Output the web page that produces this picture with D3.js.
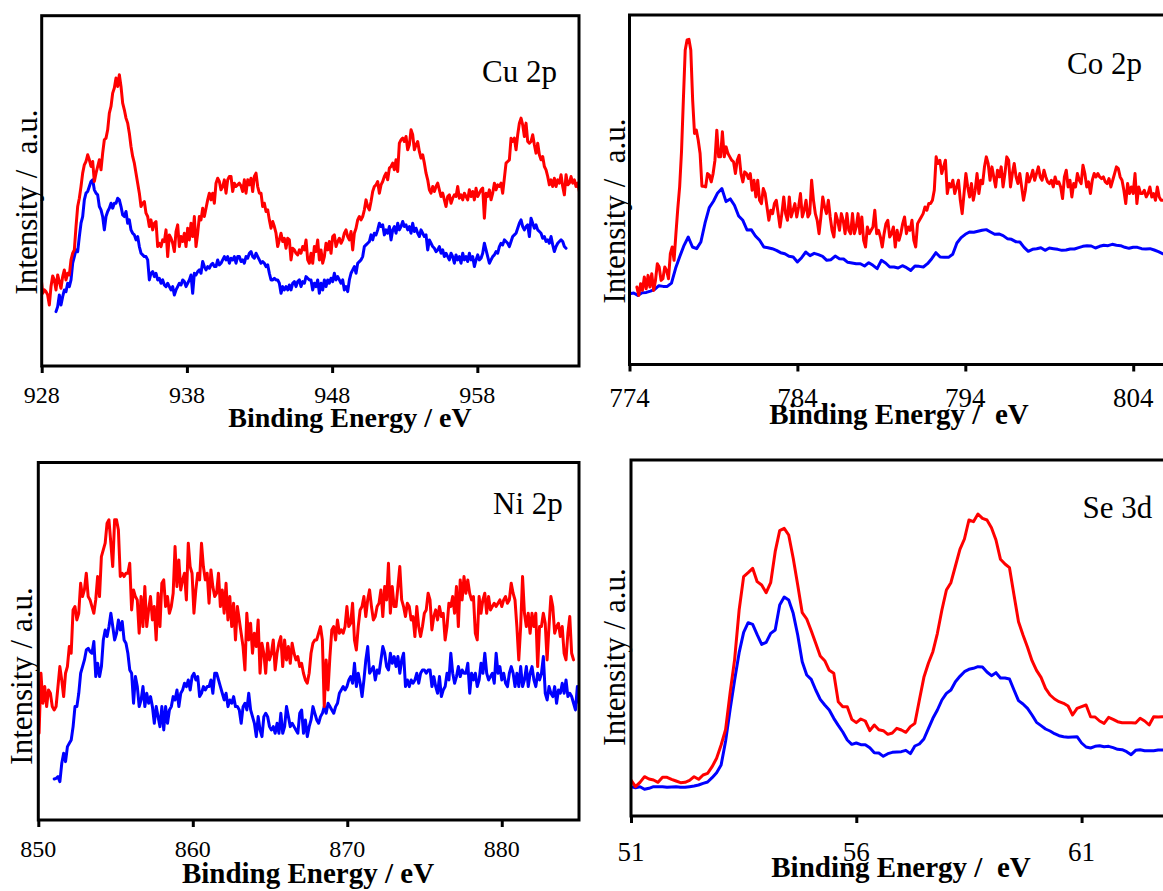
<!DOCTYPE html>
<html>
<head>
<meta charset="utf-8">
<script src="https://cdn.jsdelivr.net/npm/d3@7"></script>
<style>
  html, body { margin: 0; padding: 0; background: #fff; overflow: hidden; }
  svg { display: block; }
  text { font-family: "Liberation Serif", "Times New Roman", Times, serif; fill: #000; white-space: pre; }
</style>
</head>
<body>
<svg id="fig" width="1163" height="891"></svg>
<script>
// ---------------- XPS spectra (intensity in arbitrary units) ----------------
// Each spectrum is sampled on a regular binding-energy grid: start (eV) + step (eV).

// Cu 2p
const cuTicks = [928, 938, 948, 958];
const cuRedStart = 927.952, cuBlueStart = 928.985, cuStep = 0.11478;
const cuRed = [
  268,218,228,223,213,183,238,270,258,228,
  273,253,233,268,288,258,278,273,318,338,
  348,418,478,503,538,578,603,613,633,618,
  598,613,553,578,598,618,588,638,678,683,
  708,758,778,818,833,863,838,873,838,788,
  768,743,728,698,658,628,608,578,548,518,
  478,488,493,458,448,418,438,408,428,433,
  358,368,358,378,373,408,328,393,383,368,
  343,403,423,358,388,373,398,358,413,378,
  428,388,448,358,398,448,438,473,448,473,
  498,518,498,518,488,548,563,553,528,538,
  558,518,558,568,568,523,548,538,543,548,
  540,523,558,518,558,543,563,523,568,578,
  538,518,518,478,488,463,468,438,413,433,
  418,398,358,378,398,373,383,353,383,378,
  318,353,348,338,333,348,338,358,348,378,
  318,308,
  338,308,358,343,378,318,348,308,328,368,
  348,373,338,388,393,358,373,383,368,378,
  398,408,388,378,403,348,398,413,438,448,
  438,448,468,498,478,468,493,523,538,543,
  553,518,543,553,568,578,558,593,598,608,
  588,618,583,668,678,683,673,688,648,663,
  708,693,648,663,673,643,623,633,608,578,
  558,528,518,538,523,538,548,528,508,518,
  498,478,508,513,488,503,513,508,538,503,
  513,498,518,508,498,528,508,523,498,533,
  508,518,528,533,443,518,508,528,498,518,
  548,528,543,538,548,518,563,608,613,618,
  683,673,683,648,693,728,743,723,688,728,
  673,668,673,693,663,638,668,633,618,628,
  598,588,568,543,558,538,563,538,558,548,
  573,538,513,573,543,548,568,548,558,538,
  548,523
];
const cuBlue = [
  163,178,213,183,208,228,223,248,238,258,
  308,328,348,343,388,428,448,498,518,523,
  538,553,558,528,518,513,478,468,448,408,
  448,463,473,488,473,488,488,503,498,478,
  453,448,463,428,438,408,398,393,378,388,
  358,338,333,328,328,318,258,278,283,268,
  278,258,263,248,258,243,238,248,238,228,
  238,213,228,238,248,243,258,253,238,248,
  258,273,218,278,273,283,288,278,313,298,
  288,298,293,303,308,298,298,318,303,308,
  318,328,318,328,308,323,318,328,308,328,
  328,313,318,308,328,323,338,343,328,323,
  338,328,318,308,313,308,298,303,278,258,
  258,263,258,258,248,218,238,228,238,228,
  243,228,248,253,238,253,258,238,253,248,
  268,263,258,
  258,228,248,238,258,218,248,228,258,238,
  258,248,263,253,278,258,268,258,248,258,
  228,238,223,258,278,288,298,278,308,313,
  318,328,358,363,368,373,393,378,398,393,
  408,428,418,423,393,408,398,418,378,408,
  418,398,428,408,418,433,418,423,408,418,
  398,428,403,413,398,388,408,398,388,393,
  348,378,368,358,353,343,348,358,338,348,
  328,338,328,318,338,328,308,333,318,328,
  308,338,318,328,313,338,318,328,298,318,
  333,318,323,338,368,348,328,308,318,328,
  333,343,338,358,368,363,378,373,368,358,
  373,388,393,398,413,428,438,418,408,418,
  423,388,443,428,413,423,408,403,398,383,
  388,373,378,368,388,363,343,358,368,373,
  378,373,358,353
];

// Co 2p
const coTicks = [774, 784, 794, 804];
const coRedStart = 774.44, coRedStep = 0.1107;
const coBlueStart = 774.0, coBlueStep = 0.25;
const coRed = [
  232,207,242,222,262,227,267,232,272,222,
  252,302,292,252,257,292,282,257,332,352,
  312,392,467,532,637,792,942,972,974,942,
  792,692,702,672,632,534,534,532,572,567,
  547,572,612,702,622,622,697,622,652,632,
  622,612,607,572,612,627,572,547,577,572,
  557,572,522,552,502,552,492,482,527,512,
  472,432,462,452,482,492,452,412,452,502,
  452,432,502,442,462,482,442,472,512,442,
  462,492,442,452,552,492,452,432,392,442,
  502,472,452,492,442,402,382,452,432,402,
  452,432,392,452,402,392,452,392,412,452,
  392,442,372,352,412,392,402,412,462,392,
  402,382,352,392,422,432,382,392,412,352,
  402,372,392,422,442,392,412,402,432,372,
  352,422,432,442,452,472,462,482,482,492,
  522,622,602,612,572,592,612,512,542,532,
  552,512,532,552,492,452,512,572,532,502,
  542,492,522,572,512,552,542,592,622,602,
  552,592,562,532,582,562,592,532,572,622,
  612,532,572,602,562,542,572,532,492,522,
  572,547,562,582,552,572,592,562,552,582,
  562,547,542,552,532,562,542,547,532,497,
  562,582,532,552,502,542,532,572,552,542,
  597,572,532,547,512,552,572,562,572,562,
  557,562,547,542,557,532,552,572,592,587,
  562,552,522,482,542,512,532,512,572,482,
  532,512,512,522,502,512,532,502,512,492,
  532,502,492,492
];
const coBlue = [
  212,214,207,215,216,220,225,236,234,234,
  244,289,324,357,382,352,347,367,424,470,
  489,514,527,488,496,477,445,432,403,404,
  385,372,352,350,347,342,335,332,324,322,
  307,320,337,326,333,329,324,312,314,325,
  317,316,306,304,302,302,295,305,297,287,
  312,304,292,292,289,296,290,282,295,294,
  292,302,317,335,322,321,321,330,364,380,
  390,397,396,399,402,404,397,390,391,386,
  377,375,368,367,351,339,345,347,350,342,
  349,347,345,342,343,346,346,350,354,356,
  355,349,354,357,356,360,357,356,351,348,
  351,351,347,346,347,343,338,332
];

// Ni 2p
const niTicks = [850, 860, 870, 880];
const niRedStart = 850.05, niBlueStart = 851.03, niStep = 0.12225;
const niRed = [
  260,440,350,400,340,390,380,340,330,340,
  400,460,420,370,440,460,520,500,630,640,
  600,620,710,670,690,740,670,660,640,620,
  660,730,670,790,810,830,890,900,830,760,
  900,900,870,730,740,730,740,740,770,630,
  690,670,660,560,670,580,700,580,630,670,
  600,640,540,680,580,710,720,640,670,620,
  640,680,820,700,780,690,720,740,660,830,
  760,740,620,690,740,720,830,760,720,740,
  650,750,700,670,680,740,640,690,620,710,
  600,670,580,650,540,640,600,560,520,450,
  620,540,590,500,560,520,600,440,530,500,
  440,530,480,500,540,450,500,530,550,460,
  540,480,520,470,530,500,480,490,460,470,
  440,420,410,440,500,530,540,540,560,580,
  540,340,480,390,490,570,580,540,600,560,
  570,560,580,640,580,590,650,540,510,580,
  630,640,670,610,660,690,640,600,610,640,
  650,690,610,700,660,770,620,700,640,640,
  700,760,660,640,610,650,640,600,610,550,
  640,580,550,580,620,630,680,660,570,610,
  630,600,640,610,620,540,580,650,640,670,
  620,700,580,720,660,730,680,720,680,660,
  670,560,540,670,620,660,680,620,670,630,
  640,650,640,650,660,640,660,670,650,660,
  710,680,660,580,480,580,730,620,580,620,
  560,620,580,620,460,580,580,620,590,480,
  580,670,640,560,580,590,550,580,500,480,
  560,610,500,480
];
const niBlue = [
  123,125,130,115,170,200,175,220,230,240,
  280,340,340,380,440,460,480,510,515,505,
  500,535,430,470,430,460,540,570,550,580,
  620,580,540,560,600,570,595,540,530,500,
  450,440,350,430,400,340,360,400,340,380,
  350,370,340,290,340,310,280,340,270,340,
  290,330,340,370,360,390,340,380,390,410,
  400,420,390,430,440,420,430,370,380,400,
  390,400,400,420,380,440,440,420,400,380,
  360,380,340,360,350,370,340,340,330,290,
  340,350,330,380,330,310,290,250,310,270,
  250,310,320,310,280,270,280,260,290,260,
  320,260,280,340,310,280,290,280,270,260,
  320,330,260,300,250,280,300,340,320,300,
  290,310,320,340,320,350,340,330,320,340,
  350,380,390,400,390,400,420,430,410,470,
  400,440,410,370,420,480,520,440,450,460,
  420,450,440,480,520,500,460,450,500,470,
  490,460,490,440,480,500,400,420,400,420,
  410,420,440,410,440,450,450,440,450,450,
  400,430,400,380,430,370,390,400,440,420,
  500,440,410,430,460,430,450,440,440,470,
  380,440,420,440,400,420,470,440,500,440,
  420,430,440,410,500,440,460,420,440,410,
  400,440,460,440,400,440,400,460,400,420,
  460,400,440,460,420,400,440,420,440,490,
  380,360,400,380,370,400,350,390,380,410,
  380,420,370,380,370,350,330,400,350
];

// Se 3d
const seTicks = [51, 56, 61];
const seRedStart = 51.0, seBlueStart = 51.0, seStep = 0.1;
const seRed = [
  108,88,101,118,111,108,101,116,116,110,
  105,100,101,107,118,110,123,128,148,173,
  213,260,370,470,618,718,730,743,703,693,
  670,700,793,856,863,843,773,693,610,591,
  556,518,480,466,437,428,343,328,328,290,
  280,291,285,256,273,259,256,245,249,263,
  258,251,268,278,348,416,458,493,548,618,
  678,700,750,800,831,888,883,906,893,888,
  865,828,770,756,745,663,583,543,506,466,
  437,416,383,363,351,343,338,330,303,323,
  328,333,298,297,285,278,296,290,283,280,
  280,280,279,293,285,273,298,297,298
];
const seBlue = [
  88,85,88,80,83,88,88,88,86,87,
  88,86,86,88,90,93,98,102,115,130,
  153,225,320,408,490,551,580,575,544,515,
  521,548,558,633,657,648,608,543,463,423,
  410,378,350,333,318,293,272,252,228,215,
  219,214,214,205,190,189,179,187,191,192,
  193,197,187,210,216,231,262,293,318,348,
  368,378,403,419,433,440,443,448,447,432,
  421,430,414,414,411,378,346,336,323,303,
  281,271,261,255,247,241,238,236,237,238,
  219,207,204,209,211,208,209,205,200,199,
  193,184,197,199,196,196,196,198,198
];

// ---------------- panel layout ----------------
const RED = "#ff0000", BLUE = "#0000ff";

const panels = [
  { id: "cu", label: "Cu 2p", xDomain: [928, 965], yDomain: [0, 1050], ticks: cuTicks,
    box: { left: 41.7, right: 579, top: 15.7, bottom: 366 },
    series: [
      { start: cuBlueStart, step: cuStep, values: cuBlue, color: BLUE },
      { start: cuRedStart, step: cuStep, values: cuRed, color: RED }
    ],
    tickFont: 24, tickY: 403,
    title: "Binding Energy / eV", titleX: 350, titleY: 426.5, titleFont: 28,
    yLabel: "Intensity /  a.u.", yLabelX: 37, yLabelY: 202, yLabelFont: 31,
    labelX: 482, labelY: 82, labelFont: 31 },
  { id: "co", label: "Co 2p", xDomain: [774, 806.5], yDomain: [0, 1047], ticks: coTicks,
    box: { left: 629.5, right: 1175.2, top: 15, bottom: 364.5 },
    series: [
      { start: coBlueStart, step: coBlueStep, values: coBlue, color: BLUE },
      { start: coRedStart, step: coRedStep, values: coRed, color: RED }
    ],
    tickFont: 27, tickY: 407,
    title: "Binding Energy /  eV", titleX: 899, titleY: 424, titleFont: 29,
    yLabel: "Intensity /  a.u.", yLabelX: 624.5, yLabelY: 211, yLabelFont: 31,
    labelX: 1067, labelY: 74, labelFont: 31 },
  { id: "ni", label: "Ni 2p", xDomain: [850, 885], yDomain: [0, 1072], ticks: niTicks,
    box: { left: 38.3, right: 579, top: 462.5, bottom: 820 },
    series: [
      { start: niBlueStart, step: niStep, values: niBlue, color: BLUE },
      { start: niRedStart, step: niStep, values: niRed, color: RED }
    ],
    tickFont: 24, tickY: 856.5,
    title: "Binding Energy / eV", titleX: 308, titleY: 883, titleFont: 29,
    yLabel: "Intensity / a.u.", yLabelX: 31.5, yLabelY: 676, yLabelFont: 31,
    labelX: 493, labelY: 514, labelFont: 31 },
  { id: "se", label: "Se 3d", xDomain: [51, 63], yDomain: [0, 1068], ticks: seTicks,
    box: { left: 631, right: 1171.7, top: 460, bottom: 816 },
    series: [
      { start: seBlueStart, step: seStep, values: seBlue, color: BLUE },
      { start: seRedStart, step: seStep, values: seRed, color: RED }
    ],
    tickFont: 27, tickY: 860.7,
    title: "Binding Energy /  eV", titleX: 901, titleY: 877, titleFont: 29,
    yLabel: "Intensity / a.u.", yLabelX: 624.5, yLabelY: 657, yLabelFont: 31,
    labelX: 1082.6, labelY: 518, labelFont: 31 }
];

const svg = d3.select("#fig");
const defs = svg.append("defs");

panels.forEach(p => {
  const b = p.box;
  const x = d3.scaleLinear().domain(p.xDomain).range([b.left, b.right]);
  const y = d3.scaleLinear().domain(p.yDomain).range([b.bottom, b.top]);

  defs.append("clipPath").attr("id", "clip-" + p.id)
    .append("rect")
    .attr("x", b.left).attr("y", b.top)
    .attr("width", b.right - b.left).attr("height", b.bottom - b.top);

  const g = svg.append("g").attr("class", "panel-" + p.id);

  // spectra
  const line = d3.line()
    .x(d => x(d[0]))
    .y(d => y(d[1]));
  const plot = g.append("g").attr("clip-path", "url(#clip-" + p.id + ")");
  p.series.forEach(s => {
    const pts = s.values.map((v, i) => [s.start + i * s.step, v]);
    plot.append("path")
      .datum(pts)
      .attr("d", line)
      .attr("fill", "none")
      .attr("stroke", s.color)
      .attr("stroke-width", 3)
      .attr("stroke-linejoin", "round")
      .attr("stroke-linecap", "round");
  });

  // frame
  g.append("rect")
    .attr("x", b.left).attr("y", b.top)
    .attr("width", b.right - b.left).attr("height", b.bottom - b.top)
    .attr("fill", "none").attr("stroke", "#000").attr("stroke-width", 3);

  // bottom axis ticks and labels
  const xAxis = d3.axisBottom(x).tickValues(p.ticks).tickSize(7).tickSizeOuter(0)
    .tickFormat(d3.format("d"));
  const ax = g.append("g").attr("transform", `translate(0,${b.bottom})`).call(xAxis);
  ax.select(".domain").remove();
  ax.selectAll(".tick line").attr("stroke", "#000").attr("stroke-width", 3);
  ax.selectAll(".tick text").remove();
  p.ticks.forEach(t => {
    g.append("text")
      .attr("x", x(t)).attr("y", p.tickY)
      .attr("text-anchor", "middle")
      .style("font-size", p.tickFont + "px")
      .text(d3.format("d")(t));
  });

  // axis title
  g.append("text")
    .attr("x", p.titleX).attr("y", p.titleY)
    .attr("text-anchor", "middle")
    .style("font-size", p.titleFont + "px")
    .style("font-weight", "bold")
    .text(p.title);

  // vertical label
  g.append("text")
    .attr("transform", `translate(${p.yLabelX},${p.yLabelY}) rotate(-90)`)
    .attr("text-anchor", "middle")
    .style("font-size", p.yLabelFont + "px")
    .text(p.yLabel);

  // core-level label
  g.append("text")
    .attr("x", p.labelX).attr("y", p.labelY)
    .style("font-size", p.labelFont + "px")
    .text(p.label);
});
</script>
</body>
</html>
